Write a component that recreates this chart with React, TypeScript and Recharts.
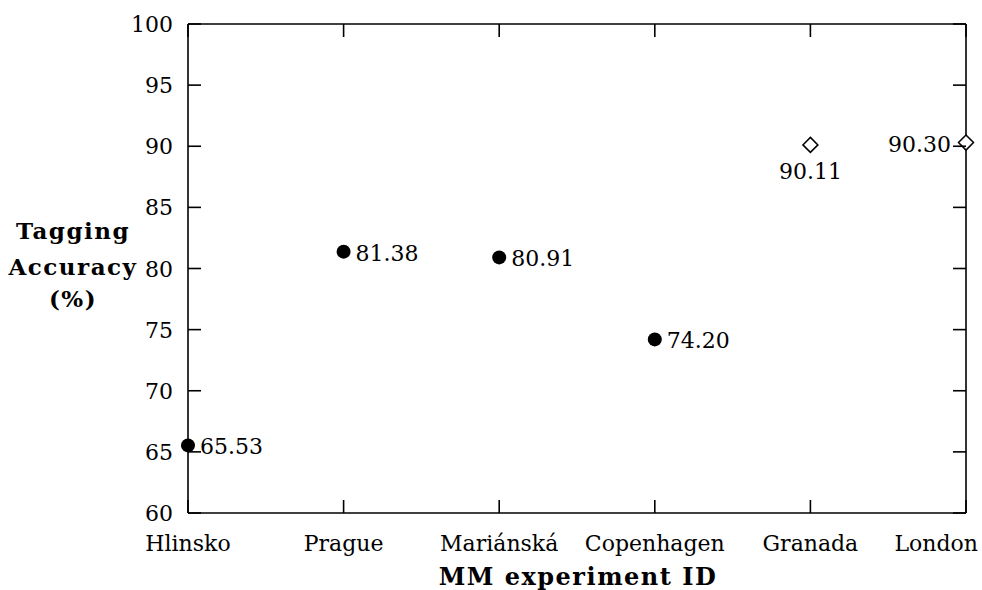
import React from 'react';
import { ScatterChart, Scatter, XAxis, YAxis, LabelList } from 'recharts';

const sites = ['Hlinsko', 'Prague', 'Mariánská', 'Copenhagen', 'Granada', 'London'];
const yTicks = [60, 65, 70, 75, 80, 85, 90, 95, 100];

// filled circles: first four experiments
const mmSiteIdx = [0, 1, 2, 3];
const mmAccuracy = [65.53, 81.38, 80.91, 74.2];
// open diamonds: last two
const otherSiteIdx = [4, 5];
const otherAccuracy = [90.11, 90.3];

const mmData = mmSiteIdx.map((s, i) => ({ x: s, y: mmAccuracy[i] }));
const otherData = otherSiteIdx.map((s, i) => ({ x: s, y: otherAccuracy[i] }));

const FONT = "'DejaVu Serif', serif";
const FS = 22;
const TICK = 13;
const SW = 1.6;

const BottomTick = (props: any) => {
  const { x, y, payload, index } = props;
  const last = index === sites.length - 1;
  return (
    <g>
      <line x1={x} y1={y} x2={x} y2={y - TICK} stroke="#000" strokeWidth={SW} />
      <text
        x={last ? x + 12 : x}
        y={y + 38}
        textAnchor={last ? 'end' : 'middle'}
        style={{ fontFamily: FONT, fontSize: FS }}
        fill="#000"
      >
        {sites[payload.value]}
      </text>
    </g>
  );
};

const TopTick = (props: any) => {
  const { x, y } = props;
  return <line x1={x} y1={y} x2={x} y2={y + TICK} stroke="#000" strokeWidth={SW} />;
};

const LeftTick = (props: any) => {
  const { x, y, payload } = props;
  return (
    <g>
      <line x1={x} y1={y} x2={x + TICK} y2={y} stroke="#000" strokeWidth={SW} />
      <text x={x - 15} y={y + 8} textAnchor="end" style={{ fontFamily: FONT, fontSize: FS }} fill="#000">
        {payload.value}
      </text>
    </g>
  );
};

const RightTick = (props: any) => {
  const { x, y } = props;
  return <line x1={x} y1={y} x2={x - TICK} y2={y} stroke="#000" strokeWidth={SW} />;
};

const Dot = (props: any) => <circle cx={props.cx} cy={props.cy} r={7} fill="#000" />;
const NoMark = () => <g />;

const Diamond = (props: any) => {
  const { cx, cy } = props;
  const d = 7.5;
  return (
    <path
      d={`M${cx},${cy - d}L${cx + d},${cy}L${cx},${cy + d}L${cx - d},${cy}Z`}
      fill="#fff"
      stroke="#000"
      strokeWidth={1.5}
    />
  );
};

const rightLabel = (props: any) => {
  const { x, y, width, height, value } = props;
  const cx = x + width / 2;
  const cy = y + height / 2;
  return (
    <text x={cx + 12} y={cy + 9} style={{ fontFamily: FONT, fontSize: FS }} fill="#000">
      {Number(value).toFixed(2)}
    </text>
  );
};

const otherLabel = (props: any) => {
  const { x, y, width, height, value, index } = props;
  const cx = x + width / 2;
  const cy = y + height / 2;
  const below = index === 0;
  return (
    <text
      x={below ? cx : cx - 15}
      y={below ? cy + 34 : cy + 9}
      textAnchor={below ? 'middle' : 'end'}
      style={{ fontFamily: FONT, fontSize: FS }}
      fill="#000"
    >
      {Number(value).toFixed(2)}
    </text>
  );
};

export default function App() {
  return (
    <div style={{ position: 'absolute', left: 0, top: 0, width: 982, height: 590, background: '#fff' }}>
      <ScatterChart width={982} height={590} margin={{ top: 0, right: 0, bottom: 0, left: 0 }}>
        <XAxis
          xAxisId="b"
          dataKey="x"
          type="number"
          domain={[0, 5]}
          ticks={[0, 1, 2, 3, 4, 5]}
          height={77}
          tickSize={0}
          tickMargin={0}
          tickLine={false}
          axisLine={{ stroke: '#000', strokeWidth: SW }}
          tick={(p: any) => <BottomTick {...p} />}
          interval={0}
        />
        <XAxis
          xAxisId="t"
          orientation="top"
          dataKey="x"
          type="number"
          domain={[0, 5]}
          ticks={[0, 1, 2, 3, 4, 5]}
          height={24}
          tickSize={0}
          tickMargin={0}
          tickLine={false}
          axisLine={{ stroke: '#000', strokeWidth: SW }}
          tick={(p: any) => <TopTick {...p} />}
          interval={0}
        />
        <YAxis
          yAxisId="l"
          dataKey="y"
          type="number"
          domain={[60, 100]}
          ticks={yTicks}
          width={188}
          tickSize={0}
          tickMargin={0}
          tickLine={false}
          axisLine={{ stroke: '#000', strokeWidth: SW }}
          tick={(p: any) => <LeftTick {...p} />}
          interval={0}
        />
        <YAxis
          yAxisId="r"
          orientation="right"
          dataKey="y"
          type="number"
          domain={[60, 100]}
          ticks={yTicks}
          width={16}
          tickSize={0}
          tickMargin={0}
          tickLine={false}
          axisLine={{ stroke: '#000', strokeWidth: SW }}
          tick={(p: any) => <RightTick {...p} />}
          interval={0}
        />
        {/* invisible series so the mirrored top/right axes get ticks */}
        <Scatter xAxisId="t" yAxisId="r" data={mmData} shape={NoMark} isAnimationActive={false} />
        <Scatter xAxisId="b" yAxisId="l" data={mmData} shape={Dot} isAnimationActive={false}>
          <LabelList dataKey="y" content={rightLabel} />
        </Scatter>
        <Scatter xAxisId="b" yAxisId="l" data={otherData} shape={Diamond} isAnimationActive={false}>
          <LabelList dataKey="y" content={otherLabel} />
        </Scatter>
        <text
          style={{ fontFamily: FONT, fontSize: 23, fontWeight: 'bold', letterSpacing: 1.5 }}
          textAnchor="middle"
          fill="#000"
        >
          <tspan x={73} y={239}>Tagging</tspan>
          <tspan x={73} y={275}>Accuracy</tspan>
          <tspan x={73} y={307}>(%)</tspan>
        </text>
        <text
          x={578}
          y={585}
          style={{ fontFamily: FONT, fontSize: 24, fontWeight: 'bold', letterSpacing: 1.5 }}
          textAnchor="middle"
          fill="#000"
        >
          MM experiment ID
        </text>
      </ScatterChart>
    </div>
  );
}
